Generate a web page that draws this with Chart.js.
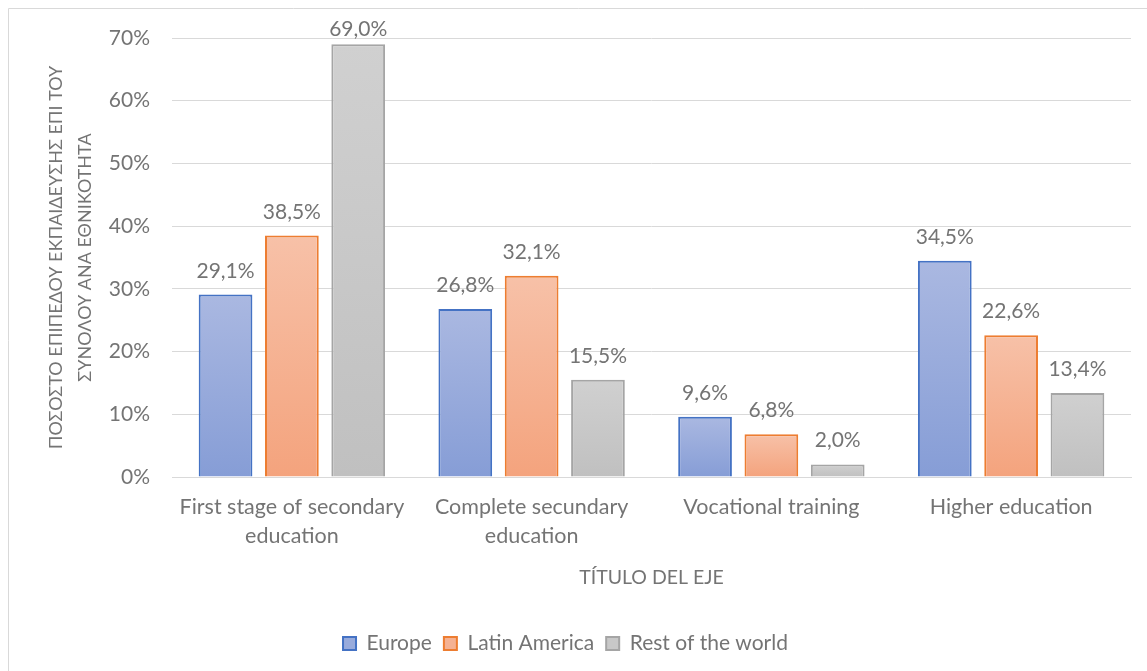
<!DOCTYPE html>
<html>
<head>
<meta charset="utf-8">
<style>
  html, body { margin: 0; padding: 0; background: #ffffff; }
  #wrap { position: absolute; left: 0; top: 0; width: 1147px; height: 671px; }
</style>
<script src="https://cdn.jsdelivr.net/npm/chart.js@4/dist/chart.umd.min.js"></script>
</head>
<body>
<div id="wrap"><canvas id="chart" width="1147" height="671"></canvas></div>
<script>
// Education level share by origin
const categories = [
  ["First stage of secondary", "education"],
  ["Complete secundary", "education"],
  "Vocational training",
  "Higher education"
];
const seriesNames = ["Europe", "Latin America", "Rest of the world"];
const europe = [29.1, 26.8, 9.6, 34.5];
const latinAmerica = [38.5, 32.1, 6.8, 22.6];
const restOfWorld = [69.0, 15.5, 2.0, 13.4];
const yTicks = [0, 10, 20, 30, 40, 50, 60, 70];
const yTitle = ["ΠΟΣΟΣΤΌ ΕΠΙΠΈΔΟΥ ΕΚΠΑΊΔΕΥΣΗΣ ΕΠΊ ΤΟΥ", "ΣΥΝΌΛΟΥ ΑΝΆ ΕΘΝΙΚΌΤΗΤΑ"];
const xTitle = "TÍTULO DEL EJE";

const FONT = "Lato, 'Open Sans', 'Liberation Sans', sans-serif";
const TEXT = "#747474";

// top / bottom gradient stops and outline for each series
const palette = [
  { top: "#aab8e1", bottom: "#869dd6", border: "#4472c4", legend: "#98abdc" },
  { top: "#f7c1a8", bottom: "#f4a37d", border: "#ed7d31", legend: "#f5b293" },
  { top: "#d0d0d0", bottom: "#c0c0c0", border: "#a5a5a5", legend: "#c8c8c8" }
];

function barFill(i) {
  return function (ctx) {
    const chart = ctx.chart;
    const y = chart.scales && chart.scales.y;
    if (ctx.type !== "data" || !y || !chart.chartArea) return palette[i].legend;
    const v = ctx.raw;
    const top = y.getPixelForValue(v);
    const base = y.getPixelForValue(0);
    if (!isFinite(top) || !isFinite(base) || base - top < 1) return palette[i].legend;
    const g = chart.ctx.createLinearGradient(0, top, 0, base);
    g.addColorStop(0, palette[i].top);
    g.addColorStop(1, palette[i].bottom);
    return g;
  };
}

function pct(v) {
  return v.toFixed(1).replace(".", ",") + "%";
}

// outer frame of the chart object
const framePlugin = {
  id: "frame",
  beforeDraw(chart) {
    const c = chart.ctx;
    c.save();
    c.strokeStyle = "#d9d9d9";
    c.lineWidth = 1;
    c.beginPath();
    c.moveTo(8.5, 680);
    c.lineTo(8.5, 8.5);
    c.lineTo(1160, 8.5);
    c.stroke();
    c.restore();
  }
};

// value labels above each bar, kept from running past the top of the plot
const valueLabels = {
  id: "valueLabels",
  afterDatasetsDraw(chart) {
    const c = chart.ctx;
    const minBaseline = chart.chartArea.top - 2;
    c.save();
    c.font = "21px " + FONT;
    c.fillStyle = TEXT;
    c.textAlign = "center";
    c.textBaseline = "alphabetic";
    chart.data.datasets.forEach((ds, di) => {
      const meta = chart.getDatasetMeta(di);
      meta.data.forEach((el, i) => {
        c.fillText(pct(ds.data[i]), el.x, Math.max(el.y - 17, minBaseline));
      });
    });
    c.restore();
  }
};

const datasets = [europe, latinAmerica, restOfWorld].map((vals, i) => ({
  label: seriesNames[i],
  data: vals,
  backgroundColor: barFill(i),
  borderColor: palette[i].border,
  borderWidth: 2,
  borderSkipped: "bottom",
  categoryPercentage: 0.83,
  barPercentage: 0.81
}));

new Chart(document.getElementById("chart"), {
  type: "bar",
  data: { labels: categories, datasets },
  options: {
    responsive: false,
    animation: false,
    layout: { padding: { left: 0, top: 38, right: 16, bottom: 7 } },
    plugins: {
      tooltip: { enabled: false },
      legend: {
        position: "bottom",
        labels: {
          font: { family: FONT, size: 21 },
          color: TEXT,
          boxWidth: 13,
          boxHeight: 13,
          padding: 12,
          generateLabels(chart) {
            return chart.data.datasets.map((ds, i) => ({
              text: ds.label,
              fillStyle: palette[i].legend,
              strokeStyle: palette[i].border,
              lineWidth: 2,
              fontColor: TEXT,
              hidden: false,
              datasetIndex: i
            }));
          }
        }
      }
    },
    scales: {
      x: {
        grid: { display: false, drawTicks: false },
        border: { display: true, color: "#d9d9d9", width: 1 },
        ticks: {
          font: { family: FONT, size: 21.5, lineHeight: 1.35 },
          color: TEXT,
          padding: 16,
          maxRotation: 0,
          autoSkip: false
        },
        title: {
          display: true,
          text: xTitle,
          font: { family: FONT, size: 19.5 },
          color: TEXT,
          padding: { top: 4, bottom: 32 }
        },
        afterFit(scale) { scale.height = 144; }
      },
      y: {
        min: 0,
        max: 70,
        afterBuildTicks(scale) { scale.ticks = yTicks.map(v => ({ value: v })); },
        grid: { color: "#d9d9d9", lineWidth: 1, drawTicks: false },
        border: { display: false },
        ticks: {
          font: { family: FONT, size: 21 },
          color: TEXT,
          padding: 22,
          callback: v => v + "%"
        },
        title: {
          display: true,
          text: yTitle,
          font: { family: FONT, size: 18, lineHeight: 1.65 },
          color: TEXT,
          padding: { top: 41, bottom: 0 }
        },
        afterFit(scale) { scale.width = 172; }
      }
    }
  },
  plugins: [framePlugin, valueLabels]
});
</script>
</body>
</html>
